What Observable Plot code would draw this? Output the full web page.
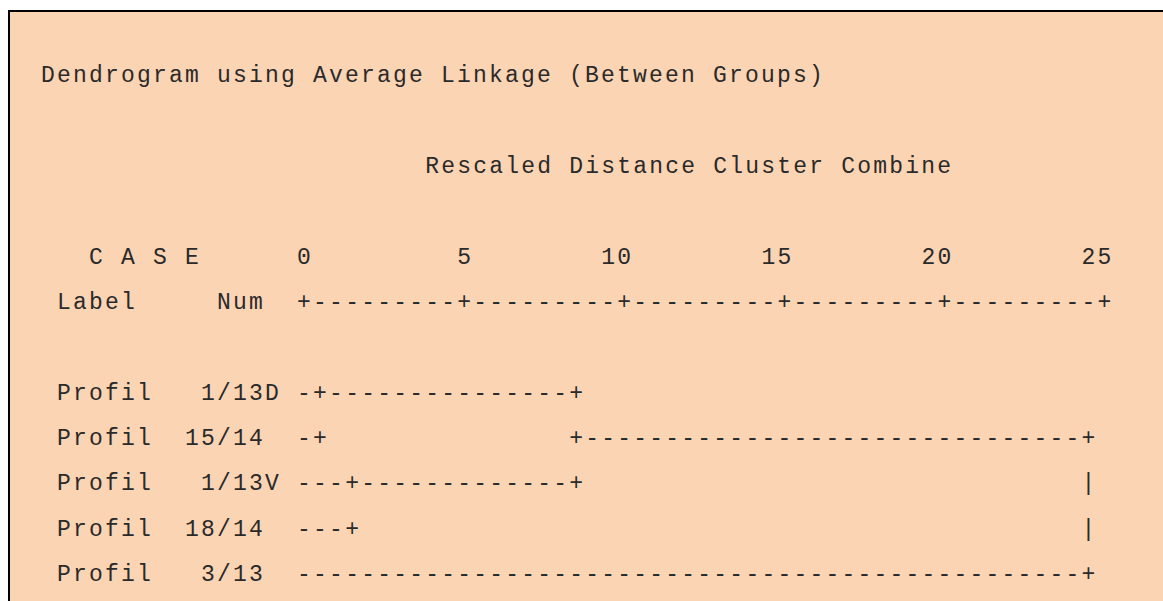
<!DOCTYPE html>
<html><head><meta charset="utf-8">
<script src="https://cdn.jsdelivr.net/npm/d3@7"></script>
<script src="https://cdn.jsdelivr.net/npm/@observablehq/plot@0.6"></script>
<style>
html,body{margin:0;padding:0;width:1163px;height:601px;overflow:hidden;background:#fff;}
#box{position:absolute;left:8px;top:10px;width:1220px;height:660px;background:#FBD4B4;border-top:2px solid #000;border-left:2px solid #000;}
#chart{position:absolute;left:0;top:0;width:1163px;height:601px;}
#chart svg{background:transparent !important;}
#chart text{letter-spacing:2.2px;}
</style></head>
<body><div id="box"></div><div id="chart"></div>
<script>
// ---- data ----
const title = "Dendrogram using Average Linkage (Between Groups)";
const subtitle = "Rescaled Distance Cluster Combine";
const caseHeader = "C A S E";
const labelHeader = "Label";
const numHeader = "Num";
const ticks = [0, 5, 10, 15, 20, 25];
const leafLabels = ["Profil", "Profil", "Profil", "Profil", "Profil"];
const leafNums = ["1/13D", "15/14", "1/13V", "18/14", "3/13"];
// merges: cluster ids 0..4 are leaves, merge k creates cluster 5+k
const mergeLeft = [0, 2, 5, 7];
const mergeRight = [1, 3, 6, 4];
const mergeDistance = [0.5, 1.5, 8.5, 24.5];

// ---- text-grid layout (monospace output) ----
const ORIGIN = 16;            // column of distance 0
const colX = c => (c - ORIGIN - 0.5) / 2;   // left edge of a column, in distance units
const colOf = d => ORIGIN + 2 * d;
const ROW_TITLE = 0, ROW_SUB = 2, ROW_CASE = 4, ROW_AXIS = 5, ROW_LEAF = 7;

const words = [];
words.push({c: 0, r: ROW_TITLE, text: title});
words.push({c: 24, r: ROW_SUB, text: subtitle});
words.push({c: 3, r: ROW_CASE, text: caseHeader});
words.push({c: 1, r: ROW_AXIS, text: labelHeader});
words.push({c: 11, r: ROW_AXIS, text: numHeader});
for (const t of ticks) {
  const s = String(t);
  words.push({c: colOf(t) - (s.length - 1), r: ROW_CASE, text: s});
}
leafLabels.forEach((lab, i) => {
  words.push({c: 1, r: ROW_LEAF + i, text: lab});
  const n = leafNums[i];
  words.push({c: 11 - n.indexOf("/"), r: ROW_LEAF + i, text: n});
});

// glyphs of the axis rule and the tree
const glyphs = [];
for (let c = colOf(ticks[0]); c <= colOf(ticks[ticks.length - 1]); c++) {
  const isTick = ticks.some(t => colOf(t) === c);
  glyphs.push({c, r: ROW_AXIS, ch: isTick ? "+" : "-"});
}
const clusters = leafNums.map((n, i) => ({row: ROW_LEAF + i, start: ORIGIN}));
mergeDistance.forEach((d, k) => {
  const a = clusters[mergeLeft[k]], b = clusters[mergeRight[k]];
  const mc = colOf(d);
  for (const ch of [a, b]) {
    for (let c = ch.start; c < mc; c++) glyphs.push({c, r: ch.row, ch: "-"});
    glyphs.push({c: mc, r: ch.row, ch: "+"});
  }
  const lo = Math.min(a.row, b.row), hi = Math.max(a.row, b.row);
  const newRow = Math.floor((lo + hi) / 2);
  const isRoot = k === mergeDistance.length - 1;
  for (let r = lo + 1; r < hi; r++) {
    glyphs.push({c: mc, r, ch: (!isRoot && r === newRow) ? "+" : "|"});
  }
  clusters.push({row: newRow, start: mc + 1});
});

const font = {fontSize: 23, fontFamily: "Liberation Mono, monospace", fill: "#2a2a2a", textAnchor: "start", dx: 1.1};

const chart = Plot.plot({
  width: 1163,
  height: 601,
  marginTop: 0, marginRight: 0, marginBottom: 0, marginLeft: 0,
  x: {domain: [0, 25], range: [303.5, 1104], axis: null},
  y: {domain: [0, 11], range: [74.5, 573], axis: null},
  style: {background: "transparent", overflow: "visible"},
  marks: [
    Plot.text(words, {x: d => colX(d.c), y: "r", text: "text", ...font}),
    Plot.text(glyphs, {x: d => colX(d.c), y: "r", text: "ch", ...font})
  ]
});
document.getElementById("chart").appendChild(chart);
</script>
</body></html>
